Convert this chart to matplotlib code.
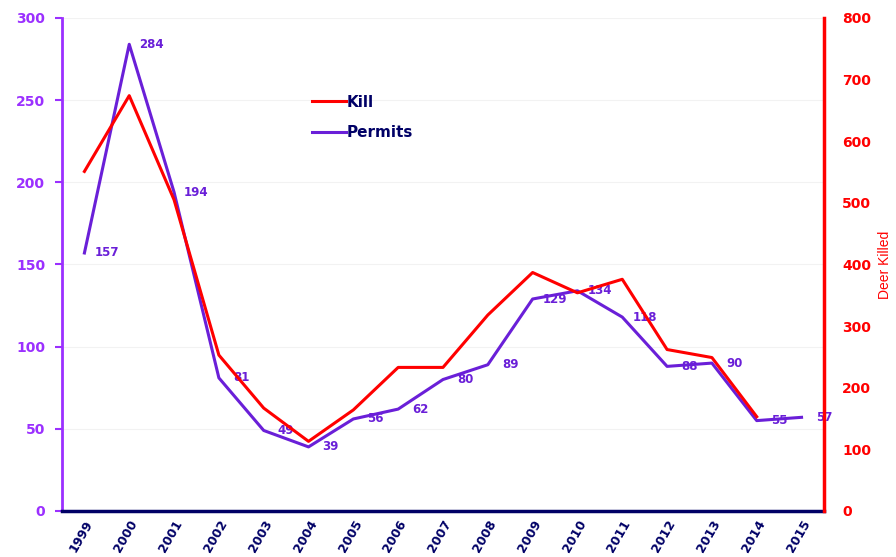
import matplotlib.pyplot as plt

# Data
years = ["1999", "2000", "2001", "2002", "2003", "2004", "2005", "2006", "2007",
         "2008", "2009", "2010", "2011", "2012", "2013", "2014", "2015"]
permits = [157, 284, 194, 81, 49, 39, 56, 62, 80, 89, 129, 134, 118, 88, 90, 55, 57]
kill = [551, 674, 505, 253, 167, 113, 164, 233, 233, 318, 387, 354, 376, 262, 249, 153]

purple = "#6a1fd8"
axis_purple = "#9b30ff"
navy = "#000066"
red = "#ff0000"

plt.rcParams["font.family"] = ["DejaVu Sans"]
plt.rcParams["font.weight"] = "bold"

fig = plt.figure(figsize=(8.96, 5.57), dpi=100)
ax = fig.add_axes([0.0692, 0.0826, 0.8504, 0.8851])
ax2 = ax.twinx()

x = list(range(len(years)))
ax.plot(x, permits, color=purple, lw=2.2, label="Permits", zorder=3)
ax2.plot(x[:len(kill)], kill, color=red, lw=2.2, label="Kill", zorder=2)

for xi, v in zip(x, permits):
    ax.annotate(str(v), (xi, v), xytext=(16, 0), textcoords="offset points",
                ha="center", va="center", color=purple, fontsize=8.5,
                fontweight="bold")

ax.set_xlim(-0.5, len(years) - 0.5)
ax.set_ylim(0, 300)
ax2.set_ylim(0, 800)
ax.set_yticks(range(0, 301, 50))
ax2.set_yticks(range(0, 801, 100))
ax.set_xticks(x)
ax.set_xticklabels(years, rotation=60, ha="right", rotation_mode="anchor",
                   color=navy, fontsize=9, fontweight="bold")
ax.tick_params(axis="x", length=0, pad=5)
ax.tick_params(axis="y", colors=axis_purple, labelsize=10, length=5,
               width=1.5, pad=7)
ax2.tick_params(axis="y", colors=red, labelsize=10, length=0, pad=13)
for lab in ax.get_yticklabels() + ax2.get_yticklabels():
    lab.set_fontweight("bold")

ax.yaxis.grid(True, color="#f2f2f2", lw=0.8)
ax.set_axisbelow(True)

for s in ("top", "right"):
    ax.spines[s].set_visible(False)
ax2.spines["top"].set_visible(False)
ax2.spines["left"].set_visible(False)
ax2.spines["bottom"].set_visible(False)
ax.spines["left"].set_color(axis_purple)
ax.spines["left"].set_linewidth(2)
ax.spines["bottom"].set_color(navy)
ax.spines["bottom"].set_linewidth(2.5)
ax2.spines["right"].set_color(red)
ax2.spines["right"].set_linewidth(2.5)

ax2.set_ylabel("Deer Killed", color=red, fontsize=10, fontweight="normal",
               family="Liberation Sans", labelpad=5)

h1, l1 = ax2.get_legend_handles_labels()
h2, l2 = ax.get_legend_handles_labels()
leg = ax.legend(h1 + h2, l1 + l2, loc="upper left",
                bbox_to_anchor=(0.31, 0.872), frameon=False, fontsize=11,
                handlelength=2.2, handletextpad=0.1, labelspacing=1.0)
for t in leg.get_texts():
    t.set_color(navy)
    t.set_fontweight("bold")

fig.savefig("out.png", dpi=100)
